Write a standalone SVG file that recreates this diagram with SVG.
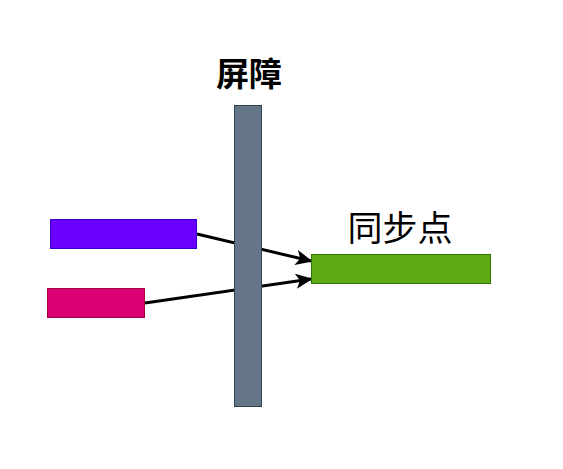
<svg xmlns="http://www.w3.org/2000/svg" width="563" height="469" viewBox="0 0 563 469">
<defs>
<marker id="arr" viewBox="0 0 10 10" refX="9" refY="5" markerWidth="17" markerHeight="17" markerUnits="userSpaceOnUse" orient="auto">
<path d="M0,0.5 L10,5 L0,9.5 L2.5,5 Z" fill="#000"/>
</marker>
<style>
.lbl{font-family:"Noto Sans CJK SC","Liberation Sans",sans-serif;fill:#000;text-anchor:middle}
.conn{stroke:#000;stroke-width:3;fill:none}
</style>
</defs>
<rect width="563" height="469" fill="#fff"/>
<g id="connectors">
<line class="conn" x1="197" y1="234" x2="311" y2="261" marker-end="url(#arr)"/>
<line class="conn" x1="145" y1="303" x2="311" y2="279" marker-end="url(#arr)"/>
</g>
<g id="barrier">
<rect x="234.5" y="105.5" width="27" height="301" fill="#647687" stroke="#314354"/>
<text class="lbl" x="249" y="86" font-size="33" font-weight="bold">屏障</text>
</g>
<g id="purple">
<rect x="50.5" y="219.5" width="146" height="29" fill="#6a00ff" stroke="#3700cc"/>
</g>
<g id="pink">
<rect x="47.5" y="288.5" width="97" height="29" fill="#d80073" stroke="#a50040"/>
</g>
<g id="sync">
<rect x="311.5" y="254.5" width="179" height="29" fill="#60a917" stroke="#2d7600"/>
<text class="lbl" x="400" y="241" font-size="35">同步点</text>
</g>
</svg>
